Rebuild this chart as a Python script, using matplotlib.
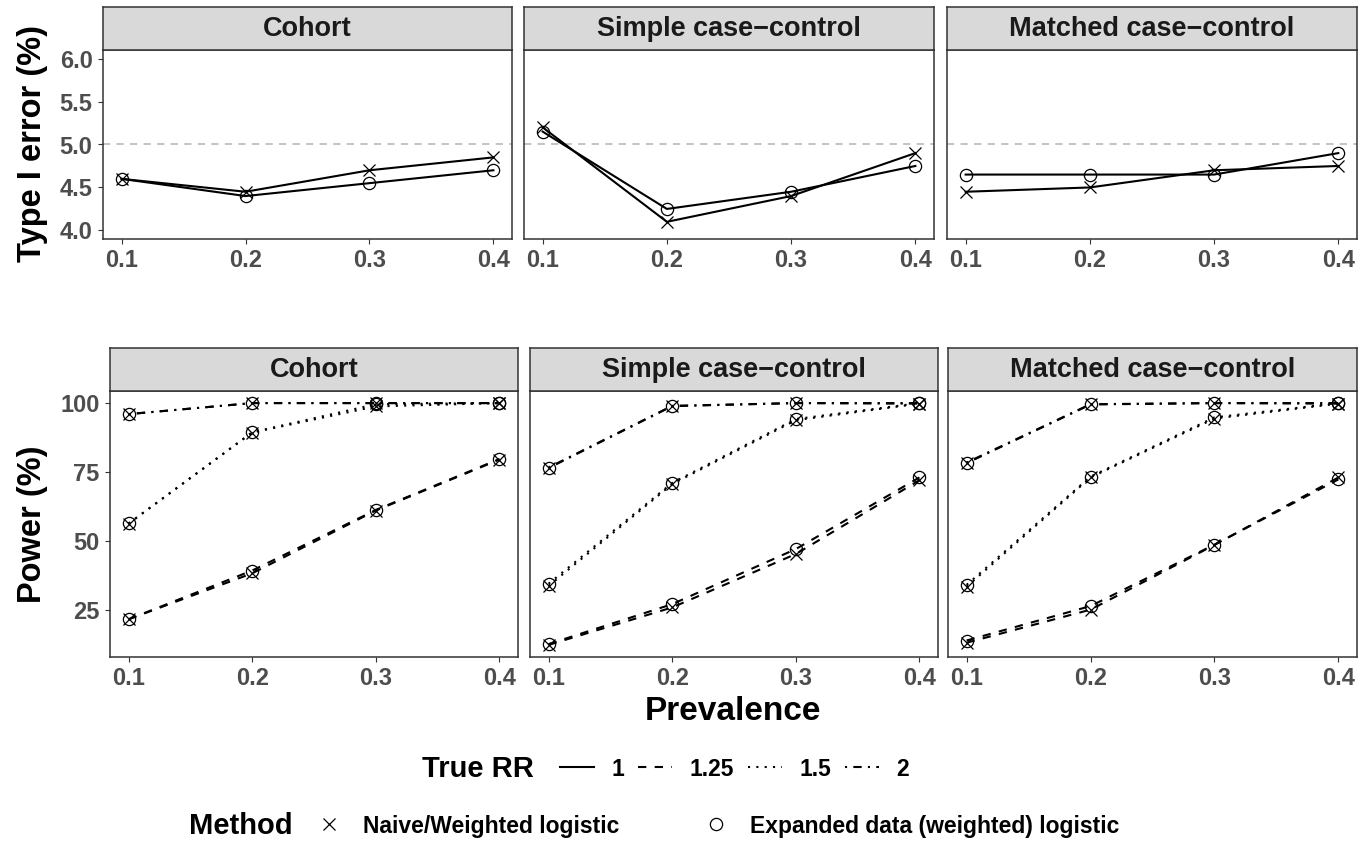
import matplotlib
matplotlib.use("Agg")
import matplotlib.pyplot as plt
from matplotlib.lines import Line2D

plt.rcParams["font.family"] = ["Liberation Sans", "DejaVu Sans"]
plt.rcParams["font.weight"] = "bold"

# ---------------- data ----------------
prevalence = [0.1, 0.2, 0.3, 0.4]
designs = ["Cohort", "Simple case\u2212control", "Matched case\u2212control"]

# type I error (%), true RR = 1, one row per design
t1_naive = [[4.60, 4.45, 4.70, 4.85],
            [5.20, 4.10, 4.40, 4.90],
            [4.45, 4.50, 4.70, 4.75]]
t1_expanded = [[4.60, 4.40, 4.55, 4.70],
               [5.15, 4.25, 4.45, 4.75],
               [4.65, 4.65, 4.65, 4.90]]

# power (%), rows = design, inner rows = true RR 1.25, 1.5, 2
rr_power = [1.25, 1.5, 2]
pw_naive = [[[21.5, 38.2, 61.0, 79.5], [56.2, 89.3, 98.8, 100.0], [96.0, 100.0, 100.0, 100.0]],
            [[12.2, 25.8, 45.2, 72.0], [33.6, 70.6, 93.8, 99.8], [76.4, 98.9, 100.0, 99.8]],
            [[13.0, 25.0, 48.5, 73.0], [33.3, 73.0, 94.4, 99.8], [78.2, 99.5, 100.0, 99.8]]]
pw_expanded = [[[21.5, 39.2, 61.2, 79.7], [56.3, 89.4, 99.6, 100.0], [96.0, 100.0, 100.0, 100.0]],
               [[12.5, 27.0, 47.0, 73.0], [34.4, 71.0, 94.2, 100.0], [76.6, 99.0, 100.0, 100.0]],
               [[13.8, 26.3, 48.6, 72.3], [34.0, 73.3, 94.8, 100.0], [78.4, 99.6, 100.0, 100.0]]]

rr_labels = ["1", "1.25", "1.5", "2"]
method_labels = ["Naive/Weighted logistic", "Expanded data (weighted) logistic"]

# ---------------- styling ----------------
W, H = 1360, 843
LS = {1: "-", 1.25: (0, (4, 4)), 1.5: (0, (1, 3)), 2: (0, (1, 3, 4, 3))}
LW = 1.5
FRAME = "#333333"
TICKC = "#4D4D4D"
MS = 8.8

def box(x0, y0, x1, y1):
    return [x0 / W, 1 - y1 / H, (x1 - x0) / W, (y1 - y0) / H]

fig = plt.figure(figsize=(13.6, 8.43), dpi=100)

def make_panel(xs, y0, y1, ys, title):
    ax = fig.add_axes(box(xs[0], y1, xs[1], ys))
    st = fig.add_axes(box(xs[0], y0, xs[1], y1))
    st.set_facecolor("#D9D9D9")
    st.set_xticks([]); st.set_yticks([])
    for s in st.spines.values():
        s.set_color(FRAME); s.set_linewidth(1.1)
    st.text(0.5, 0.48, title, ha="center", va="center", fontsize=19.5,
            fontweight="bold", color="#1A1A1A", transform=st.transAxes)
    for s in ax.spines.values():
        s.set_color(FRAME); s.set_linewidth(1.1)
    ax.tick_params(length=3.5, width=0.8, color=FRAME, labelcolor=TICKC,
                   labelsize=17, pad=4)
    ax.set_xlim(0.085, 0.415)
    ax.set_xticks(prevalence)
    ax.set_xticklabels([f"{p:.1f}" for p in prevalence], fontweight="bold")
    return ax

top_x = [(103, 512), (524, 934), (947, 1357)]
bot_x = [(110, 518), (530, 938), (948, 1357)]

for i, d in enumerate(designs):
    ax = make_panel(top_x[i], 7, 50, 239, d)
    ax.axhline(5.0, color="#BEBEBE", lw=1.3, ls=(0, (4, 3.5)), zorder=1)
    ax.plot(prevalence, t1_naive[i], color="black", lw=LW, ls=LS[1], zorder=2)
    ax.plot(prevalence, t1_expanded[i], color="black", lw=LW, ls=LS[1], zorder=2)
    ax.plot(prevalence, t1_naive[i], ls="none", marker="x", ms=MS, mew=0.9,
            color="black", zorder=3)
    ax.plot(prevalence, t1_expanded[i], ls="none", marker="o", ms=MS, mew=0.9,
            mfc="none", mec="black", zorder=3)
    ax.set_ylim(3.9, 6.1)
    ax.set_yticks([4.0, 4.5, 5.0, 5.5, 6.0])
    if i == 0:
        ax.set_yticklabels(["4.0", "4.5", "5.0", "5.5", "6.0"], fontweight="bold")
    else:
        ax.set_yticklabels([])
        ax.tick_params(axis="y", length=0)

for i, d in enumerate(designs):
    ax = make_panel(bot_x[i], 348, 391, 657, d)
    for k, rr in enumerate(rr_power):
        ax.plot(prevalence, pw_naive[i][k], color="black", lw=LW, ls=LS[rr], zorder=2)
        ax.plot(prevalence, pw_expanded[i][k], color="black", lw=LW, ls=LS[rr], zorder=2)
        ax.plot(prevalence, pw_naive[i][k], ls="none", marker="x", ms=MS, mew=0.9,
                color="black", zorder=3)
        ax.plot(prevalence, pw_expanded[i][k], ls="none", marker="o", ms=MS, mew=0.9,
                mfc="none", mec="black", zorder=3)
    allv = [v for m in (pw_naive, pw_expanded) for row in m for r in row for v in r]
    lo, hi = min(allv), max(allv)
    pad = (hi - lo) * 0.05
    ax.set_ylim(lo - pad, hi + pad)
    ax.set_yticks([25, 50, 75, 100])
    if i == 0:
        ax.set_yticklabels(["25", "50", "75", "100"], fontweight="bold")
    else:
        ax.set_yticklabels([])
        ax.tick_params(axis="y", length=0)

# axis titles
fig.text(33 / W, 1 - 144 / H, "Type I error (%)", rotation=90, ha="center",
         va="center", fontsize=23.5, fontweight="bold")
fig.text(33 / W, 1 - 524 / H, "Power (%)", rotation=90, ha="center",
         va="center", fontsize=23.5, fontweight="bold")
fig.text(733 / W, 1 - 711 / H, "Prevalence", ha="center", va="center",
         fontsize=24, fontweight="bold")

# legends
fig.text(422 / W, 1 - 769 / H, "True RR", ha="left", va="center",
         fontsize=21, fontweight="bold")
rr_handles = [Line2D([], [], color="black", lw=LW, ls=LS[r]) for r in [1, 1.25, 1.5, 2]]
fig.legend(rr_handles, rr_labels, loc="center left",
           bbox_to_anchor=(560 / W, 1 - 769 / H), ncol=4, frameon=False,
           prop={"size": 16.5, "weight": "bold"}, handlelength=1.5,
           handletextpad=0.75, columnspacing=0.6, borderpad=0, borderaxespad=0)

fig.text(189 / W, 1 - 826 / H, "Method", ha="left", va="center",
         fontsize=21, fontweight="bold")
m_handles = [Line2D([], [], ls="none", marker="x", ms=MS, mew=0.9, color="black"),
             Line2D([], [], ls="none", marker="o", ms=MS, mew=0.9, mfc="none", mec="black")]
fig.legend(m_handles, method_labels, loc="center left",
           bbox_to_anchor=(318 / W, 1 - 826 / H), ncol=2, frameon=False,
           prop={"size": 16.5, "weight": "bold"}, handlelength=1.0,
           handletextpad=0.95, columnspacing=3.75, borderpad=0, borderaxespad=0)

fig.savefig("out.png", dpi=100)
